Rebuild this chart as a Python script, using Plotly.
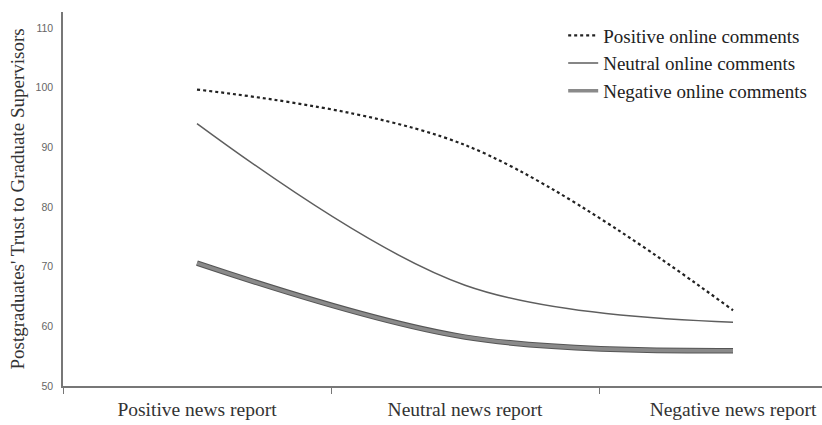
import plotly.graph_objects as go

categories = ["Positive news report", "Neutral news report", "Negative news report"]
positive_comments = [99.7, 90.4, 62.7]
neutral_comments = [94.0, 66.9, 60.7]
negative_comments = [70.6, 58.2, 55.9]
y_ticks = [50, 60, 70, 80, 90, 100, 110]

fig = go.Figure()
fig.add_trace(go.Scatter(x=categories, y=positive_comments, mode="lines",
                         line=dict(color="#222222", width=2.2, dash="dot", shape="spline"),
                         name="Positive online comments"))
fig.add_trace(go.Scatter(x=categories, y=neutral_comments, mode="lines",
                         line=dict(color="#5e5e5e", width=1.5, shape="spline"),
                         name="Neutral online comments"))
fig.add_trace(go.Scatter(x=categories, y=negative_comments, mode="lines",
                         line=dict(color="#555555", width=5.5, shape="spline"),
                         showlegend=False, legendgroup="neg", hoverinfo="skip"))
fig.add_trace(go.Scatter(x=categories, y=negative_comments, mode="lines",
                         line=dict(color="#8a8a8a", width=3.5, shape="spline"),
                         name="Negative online comments", legendgroup="neg"))

fig.update_layout(
    width=822, height=425,
    margin=dict(l=63, r=0, t=12, b=39),
    paper_bgcolor="white", plot_bgcolor="white",
    showlegend=True,
    legend=dict(x=0.659, xanchor="left", y=0.988, yanchor="top", bgcolor="rgba(0,0,0,0)",
                tracegroupgap=0,
                font=dict(family="Liberation Serif", size=19, color="#222222")),
    xaxis=dict(type="category", range=[-0.5, 2.332], showline=True, linecolor="#777777",
               linewidth=1.5, ticks="outside", tickson="boundaries", ticklen=6,
               tickcolor="#777777", showgrid=False, zeroline=False,
               ticklabelstandoff=5,
               tickfont=dict(family="Liberation Serif", size=19.5, color="#333333")),
    yaxis=dict(range=[50, 112.7], tickvals=y_ticks, showline=True, linecolor="#777777",
               linewidth=1.5, showgrid=False, zeroline=False, ticks="",
               ticklabelstandoff=6,
               tickfont=dict(family="Liberation Sans", size=10.5, color="#666666"),
               title=dict(text="Postgraduates' Trust to Graduate Supervisors",
                          font=dict(family="Liberation Serif", size=19, color="#333333"),
                          standoff=6)),
)

fig.write_html("out.html", config={"displayModeBar": False},
               post_script="document.body.style.margin='0';document.body.style.overflow='hidden';")
